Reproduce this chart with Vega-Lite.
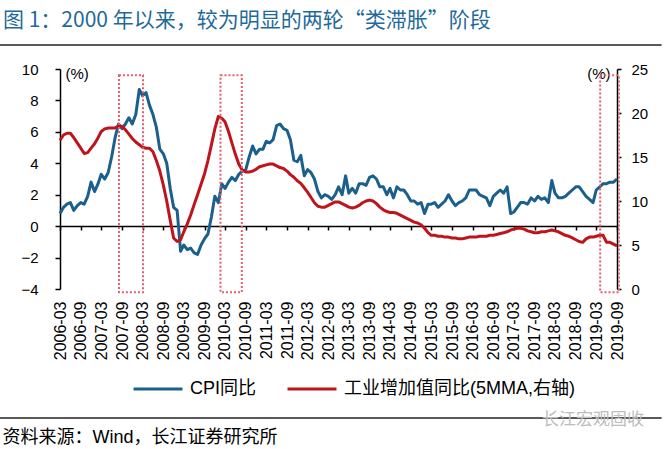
{
  "$schema": "https://vega.github.io/schema/vega-lite/v6.json",
  "autosize": {"type": "none"},
  "width": 557,
  "height": 220,
  "padding": {"left": 60, "top": 69, "right": 47, "bottom": 160},
  "background": "white",
  "config": {"view": {"stroke": null}, "axisX": {"labelOverlap": false, "labelSeparation": 0}},
  "title": {"text": "图 1：2000 年以来，较为明显的两轮“类滞胀”阶段", "anchor": "start", "frame": "group", "dx": -57, "offset": 13, "font": "Noto Sans CJK SC", "fontSize": 21, "fontWeight": "normal", "color": "#1f6a9a"},
  "data": {
    "format": {"parse": {"d": "utc:'%Y-%m'"}},
    "values": [
      {"d":"2006-03","cpi":0.8,"iva":16.9},{"d":"2006-04","cpi":1.2,"iva":17.5},{"d":"2006-05","cpi":1.4,"iva":17.7},{"d":"2006-06","cpi":1.5,"iva":17.7},{"d":"2006-07","cpi":1.0,"iva":17.2},{"d":"2006-08","cpi":1.3,"iva":16.6},{"d":"2006-09","cpi":1.5,"iva":16.0},{"d":"2006-10","cpi":1.4,"iva":15.4},{"d":"2006-11","cpi":1.9,"iva":15.5},{"d":"2006-12","cpi":2.8,"iva":16.0},
      {"d":"2007-01","cpi":2.2,"iva":16.5},{"d":"2007-02","cpi":2.7,"iva":17.2},{"d":"2007-03","cpi":3.3,"iva":17.9},{"d":"2007-04","cpi":3.0,"iva":18.2},{"d":"2007-05","cpi":3.4,"iva":18.3},{"d":"2007-06","cpi":4.4,"iva":18.3},{"d":"2007-07","cpi":5.6,"iva":18.3},{"d":"2007-08","cpi":6.5,"iva":18.5},{"d":"2007-09","cpi":6.2,"iva":18.5},{"d":"2007-10","cpi":6.5,"iva":18.1},{"d":"2007-11","cpi":6.9,"iva":17.6},{"d":"2007-12","cpi":6.5,"iva":17.1},
      {"d":"2008-01","cpi":7.1,"iva":16.7},{"d":"2008-02","cpi":8.7,"iva":16.4},{"d":"2008-03","cpi":8.3,"iva":16.1},{"d":"2008-04","cpi":8.5,"iva":16.0},{"d":"2008-05","cpi":7.7,"iva":16.0},{"d":"2008-06","cpi":7.1,"iva":15.6},{"d":"2008-07","cpi":6.3,"iva":14.6},{"d":"2008-08","cpi":4.9,"iva":13.4},{"d":"2008-09","cpi":4.6,"iva":11.8},{"d":"2008-10","cpi":4.0,"iva":10.0},{"d":"2008-11","cpi":2.4,"iva":7.8},{"d":"2008-12","cpi":1.2,"iva":5.8},
      {"d":"2009-01","cpi":1.0,"iva":5.4},{"d":"2009-02","cpi":-1.6,"iva":5.6},{"d":"2009-03","cpi":-1.2,"iva":6.5},{"d":"2009-04","cpi":-1.5,"iva":7.4},{"d":"2009-05","cpi":-1.4,"iva":8.4},{"d":"2009-06","cpi":-1.7,"iva":9.6},{"d":"2009-07","cpi":-1.8,"iva":10.7},{"d":"2009-08","cpi":-1.2,"iva":11.9},{"d":"2009-09","cpi":-0.8,"iva":13.1},{"d":"2009-10","cpi":-0.5,"iva":14.6},{"d":"2009-11","cpi":0.6,"iva":16.4},{"d":"2009-12","cpi":1.9,"iva":18.2},
      {"d":"2010-01","cpi":1.5,"iva":19.6},{"d":"2010-02","cpi":2.7,"iva":19.4},{"d":"2010-03","cpi":2.4,"iva":19.0},{"d":"2010-04","cpi":2.8,"iva":17.9},{"d":"2010-05","cpi":3.1,"iva":16.6},{"d":"2010-06","cpi":2.9,"iva":15.3},{"d":"2010-07","cpi":3.3,"iva":14.2},{"d":"2010-08","cpi":3.5,"iva":13.5},{"d":"2010-09","cpi":3.6,"iva":13.3},{"d":"2010-10","cpi":4.4,"iva":13.3},{"d":"2010-11","cpi":5.1,"iva":13.4},{"d":"2010-12","cpi":4.6,"iva":13.6},
      {"d":"2011-01","cpi":4.9,"iva":13.9},{"d":"2011-02","cpi":4.9,"iva":14.0},{"d":"2011-03","cpi":5.4,"iva":14.1},{"d":"2011-04","cpi":5.3,"iva":14.2},{"d":"2011-05","cpi":5.5,"iva":14.2},{"d":"2011-06","cpi":6.4,"iva":14.0},{"d":"2011-07","cpi":6.5,"iva":13.8},{"d":"2011-08","cpi":6.2,"iva":13.7},{"d":"2011-09","cpi":6.1,"iva":13.4},{"d":"2011-10","cpi":5.5,"iva":13.0},{"d":"2011-11","cpi":4.2,"iva":12.7},{"d":"2011-12","cpi":4.1,"iva":12.3},
      {"d":"2012-01","cpi":4.5,"iva":12.0},{"d":"2012-02","cpi":3.2,"iva":11.5},{"d":"2012-03","cpi":3.6,"iva":11.0},{"d":"2012-04","cpi":3.4,"iva":10.4},{"d":"2012-05","cpi":3.0,"iva":9.8},{"d":"2012-06","cpi":2.2,"iva":9.4},{"d":"2012-07","cpi":1.8,"iva":9.3},{"d":"2012-08","cpi":2.0,"iva":9.3},{"d":"2012-09","cpi":1.9,"iva":9.5},{"d":"2012-10","cpi":1.7,"iva":9.7},{"d":"2012-11","cpi":2.0,"iva":9.9},{"d":"2012-12","cpi":2.5,"iva":9.9},
      {"d":"2013-01","cpi":2.0,"iva":9.7},{"d":"2013-02","cpi":3.2,"iva":9.5},{"d":"2013-03","cpi":2.1,"iva":9.3},{"d":"2013-04","cpi":2.4,"iva":9.2},{"d":"2013-05","cpi":2.1,"iva":9.3},{"d":"2013-06","cpi":2.7,"iva":9.5},{"d":"2013-07","cpi":2.7,"iva":9.8},{"d":"2013-08","cpi":2.6,"iva":10.0},{"d":"2013-09","cpi":3.1,"iva":10.1},{"d":"2013-10","cpi":3.2,"iva":10.0},{"d":"2013-11","cpi":3.0,"iva":9.7},{"d":"2013-12","cpi":2.5,"iva":9.3},
      {"d":"2014-01","cpi":2.5,"iva":9.0},{"d":"2014-02","cpi":2.0,"iva":8.8},{"d":"2014-03","cpi":2.4,"iva":8.7},{"d":"2014-04","cpi":1.8,"iva":8.7},{"d":"2014-05","cpi":2.5,"iva":8.6},{"d":"2014-06","cpi":2.3,"iva":8.4},{"d":"2014-07","cpi":2.3,"iva":8.2},{"d":"2014-08","cpi":2.0,"iva":8.0},{"d":"2014-09","cpi":1.6,"iva":7.8},{"d":"2014-10","cpi":1.6,"iva":7.6},{"d":"2014-11","cpi":1.4,"iva":7.5},{"d":"2014-12","cpi":1.5,"iva":7.3},
      {"d":"2015-01","cpi":0.8,"iva":6.9},{"d":"2015-02","cpi":1.4,"iva":6.4},{"d":"2015-03","cpi":1.4,"iva":6.1},{"d":"2015-04","cpi":1.5,"iva":6.1},{"d":"2015-05","cpi":1.2,"iva":6.0},{"d":"2015-06","cpi":1.4,"iva":6.0},{"d":"2015-07","cpi":1.6,"iva":5.9},{"d":"2015-08","cpi":2.0,"iva":5.9},{"d":"2015-09","cpi":1.6,"iva":5.8},{"d":"2015-10","cpi":1.3,"iva":5.8},{"d":"2015-11","cpi":1.5,"iva":5.7},{"d":"2015-12","cpi":1.6,"iva":5.7},
      {"d":"2016-01","cpi":1.8,"iva":5.8},{"d":"2016-02","cpi":2.3,"iva":5.9},{"d":"2016-03","cpi":2.3,"iva":5.9},{"d":"2016-04","cpi":2.3,"iva":5.9},{"d":"2016-05","cpi":2.0,"iva":6.0},{"d":"2016-06","cpi":1.9,"iva":6.0},{"d":"2016-07","cpi":1.8,"iva":6.0},{"d":"2016-08","cpi":1.3,"iva":6.1},{"d":"2016-09","cpi":1.9,"iva":6.1},{"d":"2016-10","cpi":2.1,"iva":6.2},{"d":"2016-11","cpi":2.3,"iva":6.3},{"d":"2016-12","cpi":2.1,"iva":6.4},
      {"d":"2017-01","cpi":2.5,"iva":6.5},{"d":"2017-02","cpi":0.8,"iva":6.7},{"d":"2017-03","cpi":0.9,"iva":6.8},{"d":"2017-04","cpi":1.2,"iva":6.9},{"d":"2017-05","cpi":1.5,"iva":6.9},{"d":"2017-06","cpi":1.5,"iva":6.8},{"d":"2017-07","cpi":1.4,"iva":6.6},{"d":"2017-08","cpi":1.8,"iva":6.5},{"d":"2017-09","cpi":1.6,"iva":6.4},{"d":"2017-10","cpi":1.9,"iva":6.4},{"d":"2017-11","cpi":1.7,"iva":6.5},{"d":"2017-12","cpi":1.8,"iva":6.5},
      {"d":"2018-01","cpi":1.5,"iva":6.6},{"d":"2018-02","cpi":2.9,"iva":6.7},{"d":"2018-03","cpi":2.1,"iva":6.6},{"d":"2018-04","cpi":1.8,"iva":6.5},{"d":"2018-05","cpi":1.8,"iva":6.3},{"d":"2018-06","cpi":1.9,"iva":6.1},{"d":"2018-07","cpi":2.1,"iva":6.0},{"d":"2018-08","cpi":2.3,"iva":5.8},{"d":"2018-09","cpi":2.5,"iva":5.6},{"d":"2018-10","cpi":2.5,"iva":5.4},{"d":"2018-11","cpi":2.2,"iva":5.3},{"d":"2018-12","cpi":1.9,"iva":5.7},
      {"d":"2019-01","cpi":1.7,"iva":5.9},{"d":"2019-02","cpi":1.5,"iva":5.9},{"d":"2019-03","cpi":2.3,"iva":6.0},{"d":"2019-04","cpi":2.5,"iva":6.1},{"d":"2019-05","cpi":2.7,"iva":6.1},{"d":"2019-06","cpi":2.7,"iva":5.3},{"d":"2019-07","cpi":2.8,"iva":5.3},{"d":"2019-08","cpi":2.8,"iva":5.1},{"d":"2019-09","cpi":3.0,"iva":4.9}
    ]
  },
  "layer": [
    {
      "mark": {"type": "line", "strokeWidth": 3, "strokeJoin": "round"},
      "encoding": {
        "x": {
          "field": "d", "type": "temporal",
          "scale": {"type": "utc", "domain": [1141171200000, 1567296000000]},
          "axis": {
            "orient": "bottom", "offset": -63, "tickCount": 60,
            "labelExpr": "utcFormat(datum.value, '%Y-%m')",
            "values": [1141171200000, 1157068800000, 1172707200000, 1188604800000, 1204329600000, 1220227200000, 1235865600000, 1251763200000, 1267401600000, 1283299200000, 1298937600000, 1314835200000, 1330560000000, 1346457600000, 1362096000000, 1377993600000, 1393632000000, 1409529600000, 1425168000000, 1441065600000, 1456790400000, 1472688000000, 1488326400000, 1504224000000, 1519862400000, 1535760000000, 1551398400000, 1567296000000],
            "labelAngle": -90, "labelAlign": "right", "labelBaseline": "middle", "labelPadding": 71,
            "labelFont": "Liberation Sans", "labelFontSize": 16, "labelColor": "#000",
            "labelOverlap": false, "labelSeparation": 0, "labelFlush": false, "labelBound": false,
            "domainColor": "#000", "domainWidth": 1.5, "tickColor": "#000", "tickWidth": 1.5, "tickSize": 4, "grid": false,
            "title": "资料来源：Wind，长江证券研究所", "titleX": -58, "titleY": 211, "titleAlign": "left", "titleAnchor": "start", "titleBaseline": "middle",
            "titleFont": "Liberation Sans, Noto Sans CJK SC", "titleFontSize": 18, "titleFontWeight": "normal", "titleColor": "#000"
          }
        },
        "y": {
          "field": "cpi", "type": "quantitative",
          "scale": {"domain": [-4, 10], "nice": false, "zero": false},
          "axis": {
            "orient": "left", "values": [-4, -2, 0, 2, 4, 6, 8, 10], "grid": false,
            "domainColor": "#000", "domainWidth": 1.5, "tickColor": "#000", "tickWidth": 1.5, "tickSize": 5,
            "labelFont": "Liberation Sans", "labelFontSize": 15, "labelColor": "#000", "labelPadding": 17,
            "title": "(%)", "titleAngle": 0, "titleX": 5, "titleY": 4, "titleAlign": "left", "titleBaseline": "middle",
            "titleFont": "Liberation Sans", "titleFontSize": 15, "titleFontWeight": "normal", "titleColor": "#000"
          }
        },
        "color": {
          "datum": "CPI同比", "type": "nominal",
          "scale": {"domain": ["CPI同比", "工业增加值同比(5MMA,右轴)"], "range": ["#1b5f8c", "#c0141c"]},
          "legend": {
            "orient": "none", "legendX": 72, "legendY": 294, "direction": "horizontal", "title": null,
            "symbolType": "stroke", "symbolSize": 2400, "symbolStrokeWidth": 3,
            "labelFont": "Liberation Sans, Noto Sans CJK SC", "labelFontSize": 18, "labelColor": "#000",
            "labelOffset": 6, "columnPadding": 24, "labelLimit": 400
          }
        }
      }
    },
    {
      "mark": {"type": "line", "strokeWidth": 3, "strokeJoin": "round"},
      "encoding": {
        "x": {"field": "d", "type": "temporal"},
        "y": {
          "field": "iva", "type": "quantitative",
          "scale": {"domain": [0, 25], "nice": false},
          "axis": {
            "orient": "right", "values": [0, 5, 10, 15, 20, 25], "grid": false,
            "domainColor": "#000", "domainWidth": 1.5, "tickColor": "#000", "tickWidth": 1.5, "tickSize": 4,
            "labelFont": "Liberation Sans", "labelFontSize": 15, "labelColor": "#000", "labelPadding": 10,
            "title": "(%)", "titleAngle": 0, "titleX": -7, "titleY": 4, "titleAlign": "right", "titleBaseline": "middle",
            "titleFont": "Liberation Sans", "titleFontSize": 15, "titleFontWeight": "normal", "titleColor": "#000"
          }
        },
        "color": {"datum": "工业增加值同比(5MMA,右轴)", "type": "nominal"}
      }
    },
    {
      "layer": [
        {
          "data": {
            "values": [
              {"start": "2007-08-05", "end": "2008-03-05"},
              {"start": "2010-01-20", "end": "2010-07-28"},
              {"start": "2019-04-05", "end": "2019-09-18"}
            ],
            "format": {"parse": {"start": "utc:'%Y-%m-%d'", "end": "utc:'%Y-%m-%d'"}}
          },
          "mark": {"type": "rect", "fillOpacity": 0, "fill": "white", "stroke": "#e0606e", "strokeWidth": 2, "strokeDash": [2, 2]},
          "encoding": {
            "x": {"field": "start", "type": "temporal"},
            "x2": {"field": "end"},
            "y": {"datum": 9.6, "type": "quantitative", "scale": {"domain": [-4, 10], "nice": false, "zero": false}, "axis": null},
            "y2": {"datum": -4.2}
          }
        },
        {
          "data": {"values": [{"line": "top"}]},
          "mark": {"type": "rule", "stroke": "#222", "strokeWidth": 1.5},
          "encoding": {
            "x": {"datum": {"year": 2004, "month": 9, "date": 1, "utc": true}, "type": "temporal"},
            "x2": {"datum": {"year": 2020, "month": 9, "date": 30, "utc": true}},
            "y": {"datum": 11.53, "type": "quantitative"}
          }
        },
        {
          "data": {"values": [{"line": "bottom"}]},
          "mark": {"type": "rule", "stroke": "#222", "strokeWidth": 1.5},
          "encoding": {
            "x": {"datum": {"year": 2004, "month": 9, "date": 1, "utc": true}, "type": "temporal"},
            "x2": {"datum": {"year": 2020, "month": 9, "date": 30, "utc": true}},
            "y": {"datum": -12.21, "type": "quantitative"}
          }
        },
        {
          "data": {"values": [{"mark": "长江宏观固收"}]},
          "mark": {"type": "text", "color": "#bdbdbd", "font": "Noto Sans CJK SC", "fontSize": 17, "align": "center", "baseline": "middle"},
          "encoding": {
            "text": {"field": "mark", "type": "nominal"},
            "x": {"datum": {"year": 2019, "month": 2, "date": 1, "utc": true}, "type": "temporal"},
            "y": {"datum": -12.34, "type": "quantitative"}
          }
        }
      ]
    }
  ],
  "resolve": {"scale": {"y": "independent"}}
}
